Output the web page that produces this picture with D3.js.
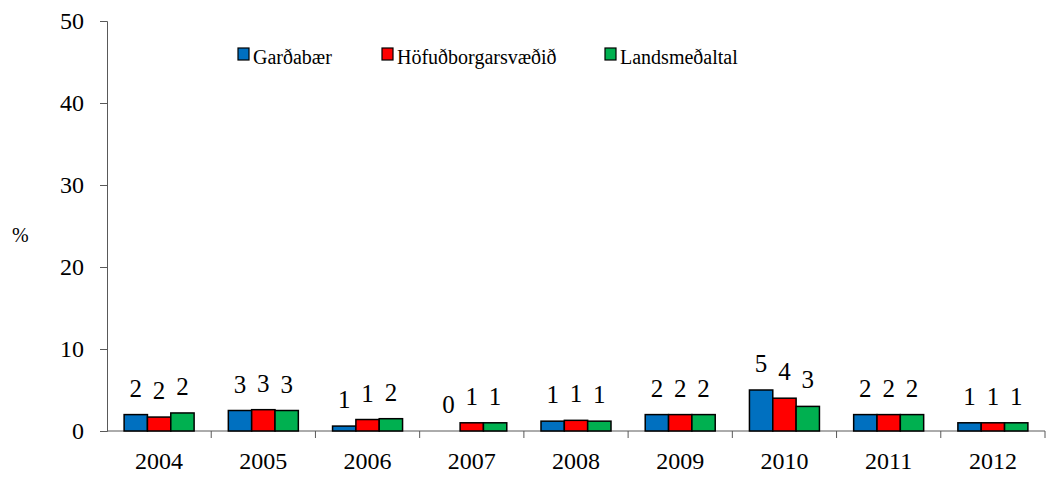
<!DOCTYPE html>
<html>
<head>
<meta charset="utf-8">
<script src="https://cdn.jsdelivr.net/npm/d3@7"></script>
<style>
  body { margin: 0; background: #fff; }
</style>
</head>
<body>
<div id="chart"></div>
<script>
// chart values
var years = ["2004", "2005", "2006", "2007", "2008", "2009", "2010", "2011", "2012"];
var seriesNames = ["Garðabær", "Höfuðborgarsvæðið", "Landsmeðaltal"];
var gardabaer = [2.0, 2.5, 0.6, 0, 1.2, 2.0, 5.0, 2.0, 1.0];
var hofudborg = [1.7, 2.6, 1.4, 1.0, 1.3, 2.0, 4.0, 2.0, 1.0];
var landsmedaltal = [2.2, 2.5, 1.5, 1.0, 1.2, 2.0, 3.0, 2.0, 1.0];
var yTicks = [0, 10, 20, 30, 40, 50];
var colors = ["#0070C0", "#FF0000", "#00B050"];

var allSeries = [gardabaer, hofudborg, landsmedaltal];

drawChart();

function drawChart(){
    const margin = {top: 21, right: 3, bottom: 46, left: 107};
    const width = 1048 - margin.left - margin.right;
    const height = 477 - margin.top - margin.bottom;

    var svg = d3.select("#chart")
        .append("svg")
            .attr("width", 1048)
            .attr("height", 477)
            .attr("font-family", "Liberation Serif")
        .append("g")
            .attr("transform", `translate(${margin.left}, ${margin.top})`);

    //x scale for the year groups
    var xScale = d3.scaleBand()
        .domain(years)
        .range([0, width]);

    //inner scale for the three series
    var xInner = d3.scaleBand()
        .domain(seriesNames)
        .range([0, 70]);

    var yScale = d3.scaleLinear()
        .domain([0, 50])
        .range([height, 0]);

    //y axis
    var yAxis = svg.append("g")
        .call(d3.axisLeft(yScale).tickValues(yTicks).tickSize(7).tickPadding(16))
        .attr("font-family", "Liberation Serif")
        .attr("font-size", 24);
    yAxis.selectAll("text").attr("fill", "#000");
    yAxis.selectAll("line, path").attr("stroke", "#595959");

    //x axis, ticks between the groups
    var xAxis = svg.append("g")
        .attr("transform", "translate(0," + height + ")");
    xAxis.append("line")
        .attr("x1", 0).attr("x2", width)
        .attr("y1", 0).attr("y2", 0)
        .attr("stroke", "#595959");
    xAxis.selectAll(".sep")
        .data(years)
        .join("line")
        .attr("class", "sep")
        .attr("x1", d => xScale(d) + xScale.bandwidth())
        .attr("x2", d => xScale(d) + xScale.bandwidth())
        .attr("y1", 0).attr("y2", 7)
        .attr("stroke", "#595959");
    xAxis.selectAll(".lbl")
        .data(years)
        .join("text")
        .attr("class", "lbl")
        .attr("x", d => xScale(d) + xScale.bandwidth() / 2)
        .attr("y", 38)
        .attr("text-anchor", "middle")
        .attr("font-size", 24)
        .text(d => d);

    //bars
    var groups = svg.selectAll(".grp")
        .data(years)
        .join("g")
        .attr("class", "grp")
        .attr("transform", d => `translate(${xScale(d) + (xScale.bandwidth() - 70) / 2}, 0)`);

    seriesNames.forEach(function(name, s){
        groups.append("rect")
            .attr("x", xInner(name))
            .attr("y", (d, i) => yScale(allSeries[s][i]))
            .attr("width", xInner.bandwidth())
            .attr("height", (d, i) => height - yScale(allSeries[s][i]))
            .attr("fill", colors[s])
            .attr("stroke", (d, i) => allSeries[s][i] > 0 ? "#000" : "none")
            .attr("stroke-width", 1.5);

        groups.append("text")
            .attr("x", xInner(name) + xInner.bandwidth() / 2)
            .attr("y", (d, i) => yScale(allSeries[s][i]) - 18)
            .attr("text-anchor", "middle")
            .attr("font-size", 25)
            .text((d, i) => Math.round(allSeries[s][i]));
    });

    //y label
    svg.append("text")
        .attr("x", -95)
        .attr("y", 221)
        .attr("font-size", 20)
        .text("%");

    //legend
    var legendX = [131, 275, 498];
    var legend = svg.selectAll(".legend")
        .data(seriesNames)
        .join("g")
        .attr("class", "legend")
        .attr("transform", (d, i) => `translate(${legendX[i]}, 27)`);
    legend.append("rect")
        .attr("x", 0).attr("y", 0)
        .attr("width", 11).attr("height", 12)
        .attr("fill", (d, i) => colors[i])
        .attr("stroke", "#000")
        .attr("stroke-width", 1.2);
    legend.append("text")
        .attr("x", 15)
        .attr("y", 16)
        .attr("font-size", 20)
        .text(d => d);
}
</script>
</body>
</html>
